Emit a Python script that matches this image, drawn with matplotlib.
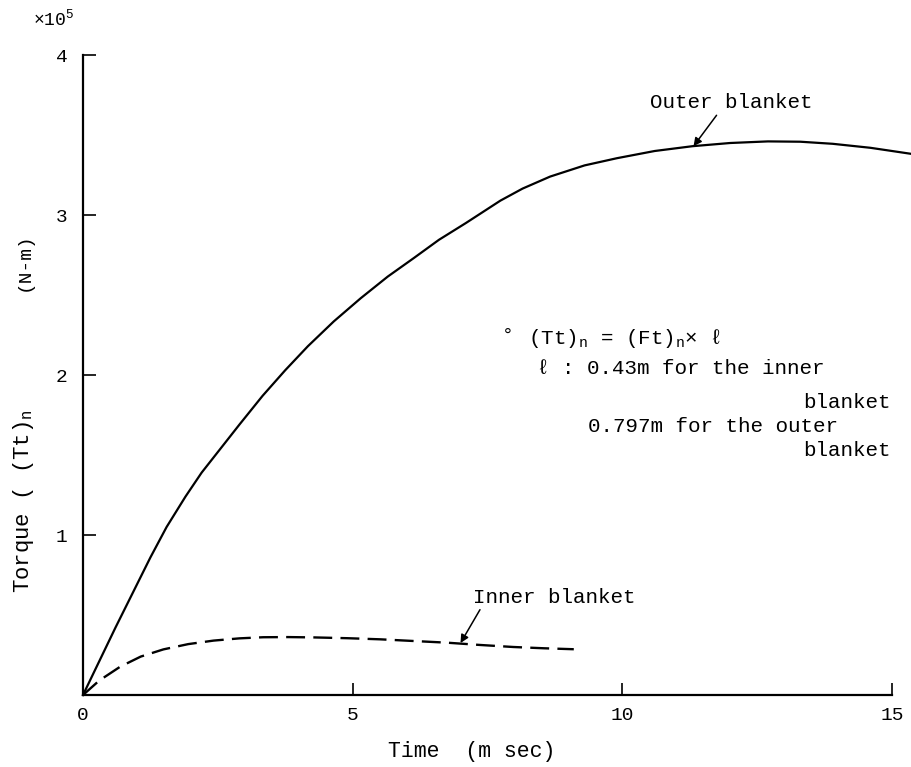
import numpy as np
import matplotlib
matplotlib.use('Agg')
import matplotlib.pyplot as plt

FONT = ['Liberation Mono', 'DejaVu Sans Mono']
plt.rcParams.update({
    'font.family': FONT, 'font.size': 14,
    'mathtext.fontset': 'custom', 'mathtext.rm': 'Liberation Mono',
    'mathtext.it': 'Liberation Mono', 'mathtext.bf': 'Liberation Mono',
    'axes.spines.top': False, 'axes.spines.right': False,
    'axes.linewidth': 1.6,
})

# outer blanket (solid)
t_outer = [0, 0.6, 1.25, 1.55, 1.9, 2.2, 2.55, 2.9, 3.33, 3.75, 4.17, 4.65, 5.15, 5.65,
           6.13, 6.6, 7.1, 7.74, 8.15, 8.66, 9.3, 9.9, 10.6, 11.3, 12.0, 12.7, 13.3,
           13.9, 14.6, 15.4]
tq_outer = [0, 0.42, 0.86, 1.05, 1.24, 1.39, 1.54, 1.69, 1.87, 2.03, 2.18, 2.335, 2.48, 2.615,
            2.73, 2.845, 2.95, 3.09, 3.165, 3.24, 3.31, 3.355, 3.40, 3.43, 3.45, 3.46, 3.458,
            3.445, 3.42, 3.38]
# inner blanket (dashed)
t_inner = [0, 0.3, 0.69, 1.07, 1.49, 1.95, 2.42, 2.9, 3.34, 3.8, 4.27, 4.9, 5.51,
           6.1, 6.75, 7.35, 7.98, 8.55, 9.1]
tq_inner = [0, 0.09, 0.177, 0.24, 0.285, 0.318, 0.34, 0.354, 0.361, 0.362, 0.36, 0.355, 0.348,
            0.338, 0.327, 0.313, 0.30, 0.292, 0.286]

xticks = [0, 5, 10, 15]
yticks = [1, 2, 3, 4]

fig = plt.figure(figsize=(9.12, 7.67), dpi=100)
ax = fig.add_axes([83/912, 1-695/767, (892-83)/912, (695-55)/767])
ax.plot(t_outer, tq_outer, color='black', lw=1.6, clip_on=False)
ax.plot(t_inner, tq_inner, color='black', lw=1.7, dashes=(8, 3.5))
ax.set_xlim(0, 15); ax.set_ylim(0, 4)
ax.set_xticks(xticks); ax.set_yticks(yticks)
ax.tick_params(direction='in', length=9, width=1.2, labelsize=14)
ax.tick_params(axis='y', pad=11)
ax.tick_params(axis='x', pad=9)
ax.set_xlabel('Time  (m sec)', fontsize=15.5)
ax.xaxis.set_label_coords(0.48, -0.072)

fig.text(24/912, 1-501/767, 'Torque ( (Tt)$_n$', rotation=90, ha='center', va='center', fontsize=16)
fig.text(24/912, 1-262/767, '(N-m)', rotation=90, ha='center', va='center', fontsize=14)
fig.text(33/912, 1-19/767, '×10$^5$', ha='left', va='center', fontsize=13)

ax.annotate('Outer blanket', xy=(11.32, 3.43), xytext=(10.52, 3.70), fontsize=15, va='center',
            arrowprops=dict(arrowstyle='-|>', color='black', lw=1.1, mutation_scale=12,
                            shrinkA=0, shrinkB=0, relpos=(0.42, 0)))
ax.annotate('Inner blanket', xy=(7.0, 0.325), xytext=(7.24, 0.61), fontsize=15, va='center',
            arrowprops=dict(arrowstyle='-|>', color='black', lw=1.1, mutation_scale=12,
                            shrinkA=0, shrinkB=0, relpos=(0.05, 0)))

ax.text(7.77, 2.25, '°', fontsize=14, va='center')
ax.text(8.26, 2.23, '(Tt)$_n$ = (Ft)$_n$× ℓ', fontsize=15, va='center')
ax.text(8.42, 2.04, 'ℓ : 0.43m for the inner', fontsize=15, va='center')
ax.text(14.97, 1.83, 'blanket', fontsize=15, va='center', ha='right')
ax.text(9.37, 1.675, '0.797m for the outer', fontsize=15, va='center')
ax.text(14.97, 1.53, 'blanket', fontsize=15, va='center', ha='right')

plt.savefig('out.png', dpi=100, facecolor='white')
